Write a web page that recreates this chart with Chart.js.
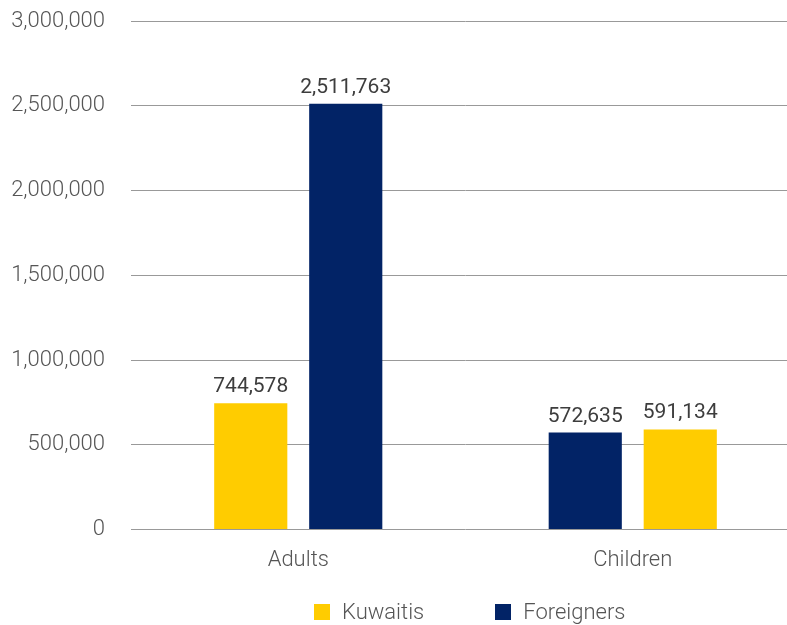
<!DOCTYPE html>
<html>
<head>
<meta charset="utf-8">
<script src="https://cdn.jsdelivr.net/npm/chart.js@4"></script>
<style>
  html, body { margin: 0; padding: 0; background: #fff; overflow: hidden; }
  #wrap { position: relative; width: 787px; height: 625px; overflow: hidden; }
  #chart { position: absolute; left: 0; top: 0; }
  #legend {
    position: absolute; top: 599px; left: 314px;
    display: flex; align-items: center;
    font: 300 22px Roboto, sans-serif; color: #555;
  }
  #legend span.box { display: inline-block; width: 16px; height: 16px; margin-right: 12px; }
  #legend span.item { display: flex; align-items: center; margin-right: 71px; }
</style>
</head>
<body>
<div id="wrap">
  <canvas id="chart" width="800" height="625"></canvas>
  <div id="legend"></div>
</div>
<script>
const categories = ['Adults', 'Children'];
const kuwaitis = [744578, 591134];
const foreigners = [2511763, 572635];
// which series is drawn first inside each group
const leftSeries = ['Kuwaitis', 'Foreigners'];
const yTicks = [0, 500000, 1000000, 1500000, 2000000, 2500000, 3000000];

const colors = { Kuwaitis: '#ffcc00', Foreigners: '#022366' };
const series = { Kuwaitis: kuwaitis, Foreigners: foreigners };

const other = name => (name === 'Kuwaitis' ? 'Foreigners' : 'Kuwaitis');
const leftData = categories.map((c, i) => series[leftSeries[i]][i]);
const rightData = categories.map((c, i) => series[other(leftSeries[i])][i]);
const leftColors = leftSeries.map(s => colors[s]);
const rightColors = leftSeries.map(s => colors[other(s)]);

const fmt = v => v.toLocaleString('en-US');

const valueLabels = {
  id: 'valueLabels',
  afterDatasetsDraw(chart) {
    const ctx = chart.ctx;
    ctx.save();
    ctx.font = '400 21px Roboto';
    ctx.fillStyle = '#3d3d3d';
    ctx.textAlign = 'center';
    ctx.textBaseline = 'alphabetic';
    chart.data.datasets.forEach((ds, di) => {
      chart.getDatasetMeta(di).data.forEach((bar, i) => {
        ctx.fillText(fmt(ds.data[i]), bar.x, bar.y - 11);
      });
    });
    ctx.restore();
  }
};

new Chart(document.getElementById('chart'), {
  type: 'bar',
  data: {
    labels: categories,
    datasets: [
      { label: 'left', data: leftData, backgroundColor: leftColors },
      { label: 'right', data: rightData, backgroundColor: rightColors }
    ]
  },
  options: {
    responsive: false,
    animation: false,
    categoryPercentage: 0.568,
    barPercentage: 0.77,
    layout: { padding: { top: 21, bottom: 41, left: 0, right: 0 } },
    plugins: {
      legend: { display: false },
      tooltip: { enabled: false }
    },
    scales: {
      x: {
        grid: { display: false },
        border: { display: false },
        ticks: { padding: 10, color: '#555', font: { family: 'Roboto', weight: 300, size: 22 } }
      },
      y: {
        min: 0,
        max: 3000000,
        afterFit: scale => { scale.width = 131; },
        afterBuildTicks: scale => { scale.ticks = yTicks.map(v => ({ value: v })); },
        // invisible tick marks keep the labels clear of the plot
        grid: { color: '#999', tickLength: 26, tickColor: 'rgba(0,0,0,0)' },
        border: { display: false },
        ticks: {
          padding: 0,
          color: '#555',
          font: { family: 'Roboto', weight: 300, size: 22 },
          callback: v => fmt(v)
        }
      }
    }
  },
  plugins: [valueLabels]
});

// legend
const legend = document.getElementById('legend');
['Kuwaitis', 'Foreigners'].forEach(name => {
  const item = document.createElement('span');
  item.className = 'item';
  const box = document.createElement('span');
  box.className = 'box';
  box.style.background = colors[name];
  item.appendChild(box);
  item.appendChild(document.createTextNode(name));
  legend.appendChild(item);
});
</script>
</body>
</html>
